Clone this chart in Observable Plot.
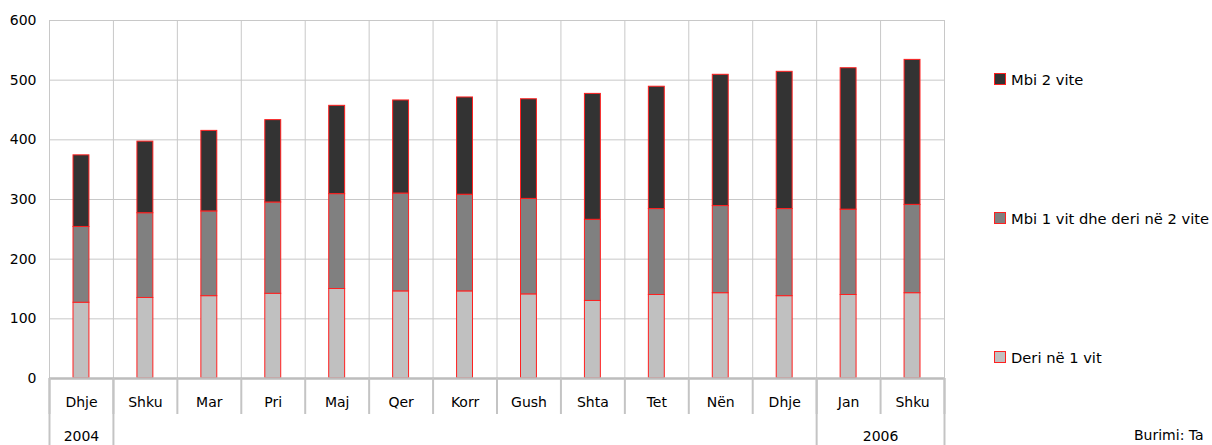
<!DOCTYPE html>
<html>
<head>
<meta charset="utf-8">
<script src="https://cdn.jsdelivr.net/npm/d3@7"></script>
<script src="https://cdn.jsdelivr.net/npm/@observablehq/plot@0.6"></script>
<style>
  html, body { margin: 0; padding: 0; background: #fff; overflow: hidden; }
  #wrap { position: relative; width: 1212px; height: 445px; font-family: "DejaVu Sans", sans-serif; }
  .leg { position: absolute; left: 994px; font-size: 14.7px; color: #000; display: flex; align-items: center; white-space: nowrap; }
  .sw { width: 10px; height: 10px; border: 1px solid #ff2020; margin-right: 5px; box-sizing: content-box; }
  #src { position: absolute; left: 1134px; top: 427px; font-size: 14px; line-height: 16px; white-space: nowrap; }
</style>
</head>
<body>
<div id="wrap"></div>
<script>
const months = ["Dhje","Shku","Mar","Pri","Maj","Qer","Korr","Gush","Shta","Tet","Nën","Dhje","Jan","Shku"];
const series = ["Deri në 1 vit","Mbi 1 vit dhe deri në 2 vite","Mbi 2 vite"];
const deri1 = [127,135,138,142,150,146,146,141,130,140,143,138,140,143];
const mbi1  = [127,142,142,153,159,164,162,160,136,144,146,146,143,148];
const mbi2  = [120,120,135,138,148,156,163,167,211,205,220,230,237,243];
const yearLabels = [{pos: 0.5, label: "2004"}, {pos: 13, label: "2006"}];
const yearBreaks = [0, 1, 12, 14];
const colors = ["#c0c0c0", "#808080", "#333333"];
const yTicks = [0,100,200,300,400,500,600];

const seriesValues = [deri1, mbi1, mbi2];
const rows = [];
series.forEach((s, k) => seriesValues[k].forEach((v, i) => rows.push({i, series: s, value: v})));

const plot = Plot.plot({
  width: 1212,
  height: 445,
  marginLeft: 49,
  marginRight: 268,
  marginTop: 20,
  marginBottom: 67,
  style: {fontFamily: "DejaVu Sans", fontSize: "14px", color: "#000", background: "transparent"},
  x: {domain: [0, months.length], axis: null},
  y: {domain: [0, 600], axis: null},
  color: {domain: series, range: colors},
  marks: [
    Plot.gridY(yTicks, {stroke: "#c8c8c8", strokeOpacity: 1}),
    Plot.ruleX(d3.range(months.length + 1), {y1: 0, y2: 600, stroke: "#c8c8c8", strokeOpacity: 1}),
    Plot.axisY({ticks: yTicks, tickSize: 0, tickPadding: 13, fontSize: 14, label: null}),
    Plot.rectY(rows, {
      x1: "i", x2: d => d.i + 1, y: "value", fill: "series",
      insetLeft: 24, insetRight: 24, stroke: "#ff2020", strokeWidth: 1
    }),
    Plot.ruleY([0], {stroke: "#bdbdbd", strokeWidth: 2.5}),
    Plot.axisX({ticks: d3.range(months.length + 1), tickSize: 36, tickFormat: () => "", stroke: "#c4c4c4", strokeWidth: 2, label: null}),
    Plot.axisX({ticks: yearBreaks, tickSize: 67, tickFormat: () => "", stroke: "#c4c4c4", strokeWidth: 2, label: null}),
    Plot.text(months, {x: (d, i) => i + 0.5, y: 0, text: d => d, dy: 24, fontSize: 14, fill: "#000"}),
    Plot.text(yearLabels, {x: "pos", y: 0, text: "label", dy: 58, fontSize: 14, fill: "#000"})
  ]
});
const wrap = document.getElementById("wrap");
wrap.appendChild(plot);
plot.style.position = "absolute";
plot.style.left = "0";
plot.style.top = "0";

const legendTops = {"Mbi 2 vite": 79, "Mbi 1 vit dhe deri në 2 vite": 218, "Deri në 1 vit": 357};
[...series].reverse().forEach(s => {
  const d = document.createElement("div");
  d.className = "leg";
  d.style.top = (legendTops[s] - 9) + "px";
  d.style.height = "18px";
  const sw = document.createElement("span");
  sw.className = "sw";
  sw.style.background = colors[series.indexOf(s)];
  const t = document.createElement("span");
  t.textContent = s;
  d.appendChild(sw); d.appendChild(t);
  wrap.appendChild(d);
});
const src = document.createElement("div");
src.id = "src";
src.textContent = "Burimi: Ta";
wrap.appendChild(src);
</script>
</body>
</html>
